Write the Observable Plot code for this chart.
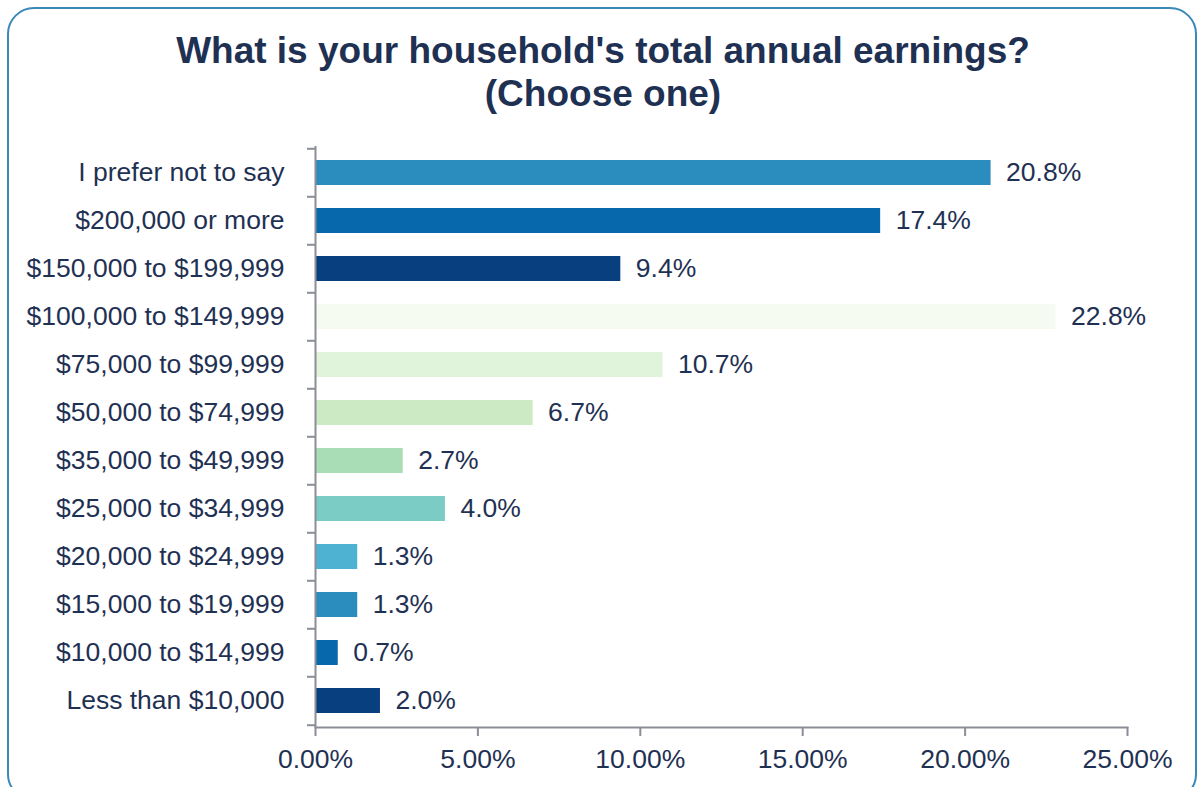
<!DOCTYPE html>
<html>
<head>
<meta charset="utf-8">
<script src="https://cdn.jsdelivr.net/npm/d3@7"></script>
<script src="https://cdn.jsdelivr.net/npm/@observablehq/plot@0.6"></script>
<style>
  html, body { margin: 0; padding: 0; background: #fff; width: 1198px; height: 787px; overflow: hidden; }
  body { position: relative; font-family: Arial, "Liberation Sans", sans-serif; }
  #frame { position: absolute; left: 7px; top: 7px; width: 1186px; height: 790px; border: 2px solid #3b89b8; border-radius: 27px; pointer-events: none; }
  #title { position: relative; margin-left: 8px; width: 1190px; height: 130px; box-sizing: border-box; padding-top: 29px; text-align: center; font-size: 37px; line-height: 43px; font-weight: bold; color: #1f3153; }
  #chart { position: relative; }
</style>
</head>
<body>
<div id="frame"></div>
<div id="title">What is your household's total annual earnings?<br>(Choose one)</div>
<div id="chart"></div>
<script>
// Data (top to bottom as drawn)
const categories = [
  "I prefer not to say",
  "$200,000 or more",
  "$150,000 to $199,999",
  "$100,000 to $149,999",
  "$75,000 to $99,999",
  "$50,000 to $74,999",
  "$35,000 to $49,999",
  "$25,000 to $34,999",
  "$20,000 to $24,999",
  "$15,000 to $19,999",
  "$10,000 to $14,999",
  "Less than $10,000"
];
const values = [20.8, 17.4, 9.4, 22.8, 10.7, 6.7, 2.7, 4.0, 1.3, 1.3, 0.7, 2.0];
const xTicks = [0, 5, 10, 15, 20, 25];

// Style
const palette = ["#2b8cbe", "#0868ac", "#083f7e", "#f5fbf0", "#e0f3db", "#ccebc5", "#a8ddb5", "#7bccc4", "#4eb3d3", "#2b8cbe", "#0868ac", "#083f7e"];
const textColor = "#1f3153";
const axisColor = "#8c8e97";

const rows = categories.map((c, i) => ({category: c, value: values[i], color: palette[i]}));

const W = 1198, H = 657, mT = 16, mB = 60, mL = 315, mR = 71;
const step = (H - mT - mB) / categories.length;
const fs = 26.5;

const chart = Plot.plot({
  width: W,
  height: H,
  marginTop: mT,
  marginBottom: mB,
  marginLeft: mL,
  marginRight: mR,
  style: {fontFamily: "Arial, 'Liberation Sans', sans-serif", fontSize: fs + "px", color: textColor, background: "transparent"},
  x: {domain: [0, 25]},
  y: {domain: categories, paddingInner: 0.48, paddingOuter: 0.24},
  color: {type: "identity"},
  marks: [
    Plot.barX(rows, {x: "value", y: "category", fill: "color"}),
    Plot.text(rows, {x: "value", y: "category", text: d => d.value.toFixed(1) + "%", textAnchor: "start", dx: 15, fontSize: fs, fill: textColor}),
    Plot.axisY({tickSize: 0, tickPadding: 31, fontSize: fs, fill: textColor, label: null}),
    Plot.axisX({ticks: xTicks, tickFormat: d => d.toFixed(2) + "%", tickSize: 9, tickPadding: 13, fontSize: fs, fill: textColor, stroke: axisColor, strokeWidth: 2, label: null}),
    Plot.ruleX([0], {stroke: axisColor, strokeWidth: 2}),
    Plot.frame({anchor: "bottom", stroke: axisColor, strokeWidth: 2}),
    Plot.ruleY(categories, {y: d => d, x1: () => 0, x2: () => 0, insetLeft: -8, dy: -step / 2, stroke: axisColor, strokeWidth: 2}),
    Plot.ruleY(categories.slice(-1), {y: d => d, x1: () => 0, x2: () => 0, insetLeft: -8, dy: step / 2, stroke: axisColor, strokeWidth: 2})
  ]
});
document.getElementById("chart").appendChild(chart);
</script>
</body>
</html>
